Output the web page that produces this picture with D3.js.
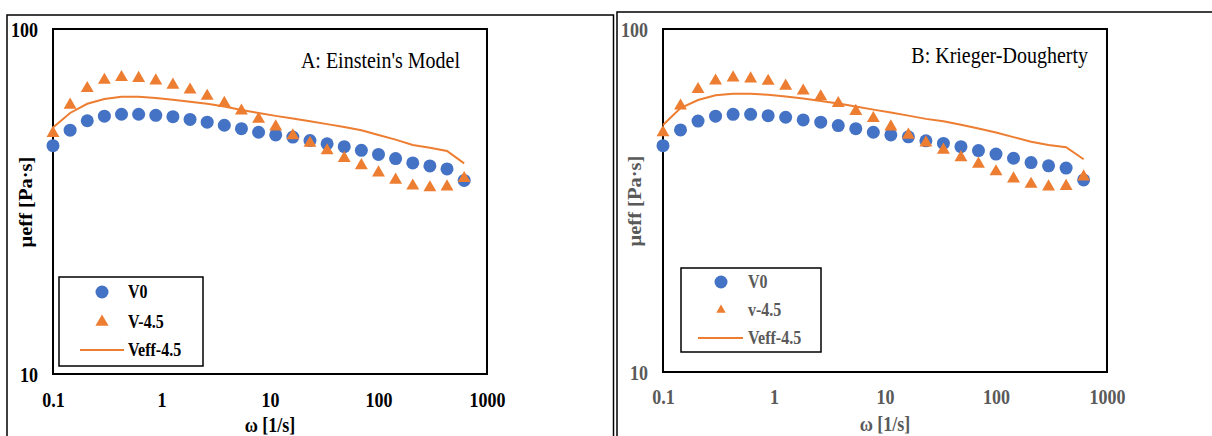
<!DOCTYPE html>
<html>
<head>
<meta charset="utf-8">
<script src="https://cdn.jsdelivr.net/npm/d3@7"></script>
<style>
  html, body { margin: 0; padding: 0; background: #fff; }
  svg { display: block; }
  text { font-family: "Liberation Serif", "Times New Roman", serif; }
</style>
</head>
<body>
<svg id="chart" width="1212" height="436"></svg>
<script>
// ---- data ----
const omega = [0.1, 0.1438, 0.2069, 0.2976, 0.428, 0.6158, 0.8859, 1.274, 1.833, 2.637,
  3.793, 5.456, 7.848, 11.29, 16.24, 23.36, 33.6, 48.33, 69.52, 100,
  143.8, 206.9, 297.6, 428.1, 615.8];

const xTickValues = [0.1, 1, 10, 100, 1000];
const xTickLabels = ["0.1", "1", "10", "100", "1000"];
const yTickValues = [10, 100];
const yTickLabels = ["10", "100"];

// Panel A: Einstein's Model
const aV0 = [45.9, 50.9, 54.2, 55.9, 56.6, 56.6, 56.2, 55.7, 54.7, 53.7,
  52.6, 51.4, 50.2, 49.3, 48.6, 47.5, 46.5, 45.6, 44.5, 43.3,
  42.1, 40.9, 40.1, 39.3, 36.4];
const aV45 = [49.9, 60.2, 67.3, 71.1, 72.4, 72.0, 70.8, 68.8, 66.6, 63.9,
  60.9, 57.9, 54.8, 52.1, 49.1, 46.7, 44.4, 42.2, 40.2, 38.3,
  36.5, 35.1, 34.7, 34.9, 36.9];
const aVeff = [51.8, 57.1, 60.7, 62.7, 63.6, 63.6, 63.1, 62.4, 61.5, 60.7,
  59.6, 58.2, 57.1, 56.0, 55.0, 54.0, 53.0, 52.0, 50.9, 49.3,
  47.8, 46.1, 45.3, 44.3, 40.8];

// Panel B: Krieger-Dougherty
const bV0 = [45.7, 50.8, 53.9, 55.7, 56.4, 56.4, 55.9, 55.3, 54.3, 53.5,
  52.3, 51.2, 50.0, 49.1, 48.5, 47.2, 46.4, 45.4, 44.2, 43.2,
  42.0, 40.8, 39.9, 39.3, 36.3];
const bV45 = [49.9, 59.7, 66.7, 70.6, 72.1, 71.6, 70.5, 68.2, 66.0, 63.5,
  60.7, 57.6, 54.9, 51.9, 49.1, 46.6, 44.4, 42.2, 40.4, 38.4,
  36.6, 35.3, 34.7, 34.8, 37.1];
const bVeff = [52.5, 58.8, 62.1, 64.1, 64.8, 64.8, 64.3, 63.6, 62.7, 61.7,
  60.6, 59.4, 58.2, 57.1, 55.9, 54.7, 53.8, 52.6, 51.3, 49.9,
  48.4, 46.9, 45.9, 45.2, 41.7];

const panelTitles = ["A: Einstein's Model", "B: Krieger-Dougherty"];
const legendLabelsA = ["V0", "V-4.5", "Veff-4.5"];
const legendLabelsB = ["V0", "v-4.5", "Veff-4.5"];
const xTitle = "ω [1/s]";
const yTitleA = "μeff [Pa·s]";
const yTitleB = "μeff  [Pa·s]";

// ---- styles ----
const BLUE = "#4472C4", ORANGE = "#ED7D31";
const SY = 1.13; // vertical stretch of the reference text
const svg = d3.select("#chart");

// outer frames
svg.append("rect").attr("x", 7).attr("y", 15).attr("width", 606.5).attr("height", 440)
  .attr("fill", "none").attr("stroke", "#000").attr("stroke-width", 1.5);
svg.append("rect").attr("x", 617).attr("y", 12).attr("width", 620).attr("height", 440)
  .attr("fill", "none").attr("stroke", "#000").attr("stroke-width", 1.5);

function label(g, x, y, txt, opts) {
  const t = g.append("text")
    .attr("transform", `translate(${x},${y}) scale(1,${SY})`)
    .attr("text-anchor", opts.anchor || "start")
    .attr("font-size", opts.size).attr("font-weight", opts.weight || "normal")
    .attr("fill", opts.color || "#000").text(txt);
  if (opts.dy) t.attr("dy", opts.dy);
  return t;
}

function drawPanel(cfg) {
  const x = d3.scaleLog().domain([0.1, 1000]).range([cfg.left, cfg.right]);
  const y = d3.scaleLog().domain([10, 100]).range([cfg.bottom, cfg.top]);
  const g = svg.append("g");

  // plot area border
  g.append("rect").attr("x", cfg.left).attr("y", cfg.top)
    .attr("width", cfg.right - cfg.left).attr("height", cfg.bottom - cfg.top)
    .attr("fill", "none").attr("stroke", "#000").attr("stroke-width", 2);

  // x axis labels
  const xAxis = d3.axisBottom(x).tickValues(xTickValues)
    .tickFormat((d, i) => xTickLabels[i]).tickSize(0).tickPadding(0);
  const xa = g.append("g").attr("transform", `translate(0,${cfg.xLabelBase})`).call(xAxis);
  xa.select(".domain").remove();
  xa.selectAll("text").attr("dy", 0).attr("y", 0)
    .attr("transform", `scale(1,${SY})`)
    .attr("font-family", '"Liberation Serif", "Times New Roman", serif')
    .attr("font-size", 18).attr("font-weight", "bold").attr("fill", cfg.textColor);

  // y axis labels
  const yAxis = d3.axisLeft(y).tickValues(yTickValues)
    .tickFormat((d, i) => yTickLabels[i]).tickSize(0).tickPadding(0);
  const ya = g.append("g").attr("transform", `translate(${cfg.yLabelRight},0)`).call(yAxis);
  ya.select(".domain").remove();
  ya.selectAll("text").attr("x", 0).attr("dy", "0.36em")
    .attr("transform", `scale(1,${SY})`)
    .attr("font-family", '"Liberation Serif", "Times New Roman", serif')
    .attr("font-size", 18).attr("font-weight", "bold").attr("fill", cfg.textColor);

  // axis titles
  label(g, (cfg.left + cfg.right) / 2, cfg.xTitleBase, xTitle,
    { anchor: "middle", size: 18, weight: "bold", color: cfg.textColor });
  g.append("text")
    .attr("transform", `translate(${cfg.yTitleX},${cfg.yTitleY}) rotate(-90) scale(1.08,1)`)
    .attr("text-anchor", "middle").attr("dy", "0.35em")
    .attr("font-size", 19).attr("font-weight", "bold")
    .attr("fill", cfg.textColor).text(cfg.yTitle);

  // panel title
  label(g, cfg.titleX, cfg.titleY, cfg.title, { anchor: "end", size: 20, color: "#000" });

  // series
  const tri = d3.symbol().type(d3.symbolTriangle).size(72);
  g.append("g").selectAll("circle").data(cfg.v0).join("circle")
    .attr("cx", (d, i) => x(omega[i])).attr("cy", d => y(d)).attr("r", 6.5)
    .attr("fill", BLUE);
  g.append("g").selectAll("path").data(cfg.v45).join("path")
    .attr("d", tri).attr("transform", (d, i) => `translate(${x(omega[i])},${y(d)})`)
    .attr("fill", ORANGE);
  const line = d3.line().x((d, i) => x(omega[i])).y(d => y(d));
  g.append("path").datum(cfg.veff).attr("d", line)
    .attr("fill", "none").attr("stroke", ORANGE).attr("stroke-width", 2);

  // legend
  const L = cfg.legend;
  g.append("rect").attr("x", L.x).attr("y", L.y).attr("width", L.w).attr("height", L.h)
    .attr("fill", "#fff").attr("stroke", "#000").attr("stroke-width", 1.5);
  g.append("circle").attr("cx", L.symX).attr("cy", L.rows[0]).attr("r", 6.5).attr("fill", BLUE);
  g.append("path").attr("d", d3.symbol().type(d3.symbolTriangle).size(L.triSize))
    .attr("transform", `translate(${L.symX},${L.rows[1]})`).attr("fill", ORANGE);
  g.append("line").attr("x1", L.lineX1).attr("x2", L.lineX2)
    .attr("y1", L.rows[2]).attr("y2", L.rows[2])
    .attr("stroke", ORANGE).attr("stroke-width", 2);
  cfg.legendLabels.forEach((t, i) => {
    label(g, L.textX, L.rows[i], t,
      { size: 16, weight: "bold", color: cfg.textColor, dy: "0.35em" });
  });
}

drawPanel({
  left: 53, right: 487, top: 29, bottom: 374,
  xLabelBase: 407, yLabelRight: 38, xTitleBase: 432,
  yTitleX: 25, yTitleY: 202, yTitle: yTitleA,
  titleX: 460, titleY: 68, title: panelTitles[0],
  textColor: "#000",
  v0: aV0, v45: aV45, veff: aVeff,
  legendLabels: legendLabelsA,
  legend: { x: 59, y: 277, w: 144, h: 89, symX: 102, rows: [292, 322, 350],
    triSize: 75, lineX1: 80, lineX2: 124, textX: 128 }
});

drawPanel({
  left: 663, right: 1107, top: 29, bottom: 372,
  xLabelBase: 404, yLabelRight: 648, xTitleBase: 431,
  yTitleX: 634, yTitleY: 201, yTitle: yTitleB,
  titleX: 1088, titleY: 63, title: panelTitles[1],
  textColor: "#595959",
  v0: bV0, v45: bV45, veff: bVeff,
  legendLabels: legendLabelsB,
  legend: { x: 681, y: 268, w: 140, h: 84, symX: 721, rows: [282, 310, 338],
    triSize: 38, lineX1: 698, lineX2: 743, textX: 748 }
});
</script>
</body>
</html>
